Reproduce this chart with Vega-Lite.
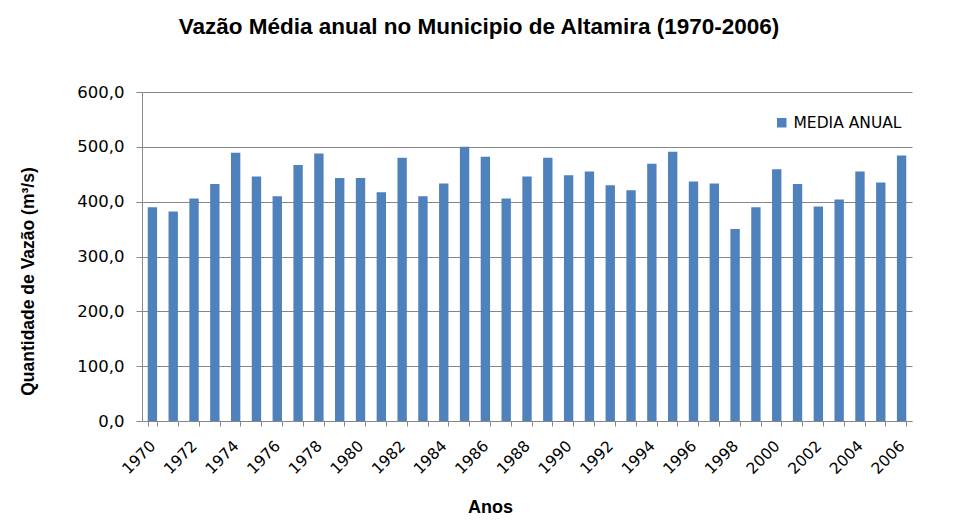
{
  "$schema": "https://vega.github.io/schema/vega-lite/v6.json",
  "width": 770,
  "height": 329,
  "autosize": "none",
  "padding": {"left": 142, "top": 92, "right": 48, "bottom": 109},
  "background": "white",
  "title": {
    "text": "Vazão Média anual no Municipio de Altamira (1970-2006)",
    "font": "Liberation Sans",
    "fontSize": 22.5,
    "fontWeight": "bold",
    "color": "#000000",
    "anchor": "middle",
    "dx": -48,
    "offset": 46
  },
  "data": {
    "values": [
      {"ano": 1970, "vazao": 390},
      {"ano": 1971, "vazao": 382},
      {"ano": 1972, "vazao": 406},
      {"ano": 1973, "vazao": 432},
      {"ano": 1974, "vazao": 489},
      {"ano": 1975, "vazao": 446},
      {"ano": 1976, "vazao": 410},
      {"ano": 1977, "vazao": 467},
      {"ano": 1978, "vazao": 488},
      {"ano": 1979, "vazao": 443},
      {"ano": 1980, "vazao": 443},
      {"ano": 1981, "vazao": 417},
      {"ano": 1982, "vazao": 480},
      {"ano": 1983, "vazao": 410},
      {"ano": 1984, "vazao": 433},
      {"ano": 1985, "vazao": 500},
      {"ano": 1986, "vazao": 482},
      {"ano": 1987, "vazao": 406},
      {"ano": 1988, "vazao": 446},
      {"ano": 1989, "vazao": 480},
      {"ano": 1990, "vazao": 448},
      {"ano": 1991, "vazao": 455},
      {"ano": 1992, "vazao": 430},
      {"ano": 1993, "vazao": 421},
      {"ano": 1994, "vazao": 469},
      {"ano": 1995, "vazao": 491},
      {"ano": 1996, "vazao": 437},
      {"ano": 1997, "vazao": 433},
      {"ano": 1998, "vazao": 350},
      {"ano": 1999, "vazao": 390},
      {"ano": 2000, "vazao": 459},
      {"ano": 2001, "vazao": 432},
      {"ano": 2002, "vazao": 391},
      {"ano": 2003, "vazao": 404},
      {"ano": 2004, "vazao": 455},
      {"ano": 2005, "vazao": 435},
      {"ano": 2006, "vazao": 484}
    ]
  },
  "mark": {"type": "bar", "color": "#4F81BD"},
  "encoding": {
    "x": {
      "field": "ano",
      "type": "ordinal",
      "scale": {"paddingInner": 0.55, "paddingOuter": 0.275},
      "axis": {
        "title": "Anos",
        "titleFont": "Liberation Sans",
        "titleFontSize": 18,
        "titleFontWeight": "bold",
        "titleColor": "#000000",
        "titleX": 348,
        "titleY": 91,
        "titleAnchor": "middle",
        "titleBaseline": "alphabetic",
        "labelAngle": -45,
        "labelAlign": "right",
        "labelBaseline": "middle",
        "labelFont": "DejaVu Sans",
        "labelFontSize": 15.5,
        "labelColor": "#000000",
        "labelPadding": 17,
        "labelOverlap": false,
        "labelExpr": "datum.value % 2 == 0 ? datum.label : ''",
        "tickBand": "extent",
        "tickColor": "#868686",
        "tickSize": 5,
        "domainColor": "#868686",
        "grid": false
      }
    },
    "y": {
      "field": "vazao",
      "type": "quantitative",
      "scale": {"domain": [0, 600]},
      "axis": {
        "title": "Quantidade de Vazão (m³/s)",
        "titleFont": "Liberation Sans",
        "titleFontSize": 17.5,
        "titleFontWeight": "bold",
        "titleColor": "#000000",
        "titleX": -114,
        "titleY": 189,
        "titleAlign": "center",
        "titleBaseline": "middle",
        "titleAngle": -90,
        "values": [0, 100, 200, 300, 400, 500, 600],
        "labelExpr": "replace(format(datum.value, '.1f'), '.', ',')",
        "labelFont": "DejaVu Sans",
        "labelFontSize": 16.5,
        "labelColor": "#000000",
        "labelPadding": 12,
        "tickColor": "#868686",
        "tickSize": 6,
        "domainColor": "#868686",
        "gridColor": "#868686",
        "gridWidth": 1
      }
    },
    "fill": {
      "datum": "MEDIA ANUAL",
      "type": "nominal",
      "scale": {"range": ["#4F81BD"]},
      "legend": {
        "title": null,
        "orient": "none",
        "legendX": 632,
        "legendY": 23,
        "symbolType": "square",
        "symbolSize": 90,
        "symbolStrokeWidth": 0,
        "labelFont": "DejaVu Sans",
        "labelFontSize": 15.5,
        "labelColor": "#000000"
      }
    }
  },
  "config": {
    "view": {"stroke": null},
    "axis": {"domainWidth": 1, "tickWidth": 1}
  }
}
